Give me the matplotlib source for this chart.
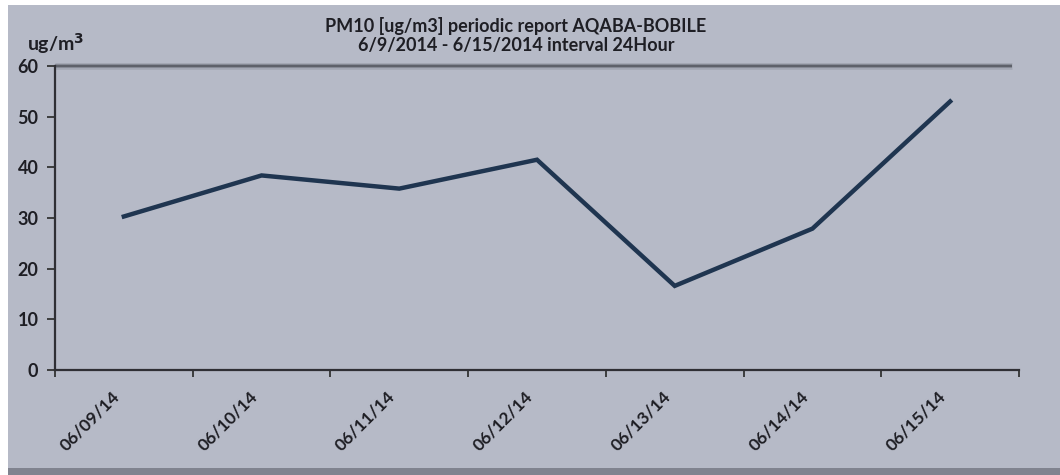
import matplotlib
matplotlib.use("Agg")
import matplotlib.pyplot as plt
from matplotlib.patches import Rectangle
import numpy as np

dates = ["06/09/14", "06/10/14", "06/11/14", "06/12/14", "06/13/14", "06/14/14", "06/15/14"]
pm10 = [30.3, 38.4, 35.8, 41.5, 16.6, 27.9, 53.0]
y_ticks = [0, 10, 20, 30, 40, 50, 60]

bg = "#b6bac7"
ink = "#1e1e24"
line_color = "#1f3550"

plt.rcParams["font.family"] = ["Lato", "DejaVu Sans"]

fig = plt.figure(figsize=(10.6, 4.75), dpi=100, facecolor="white")

# chart panel background with shadow along the bottom
fig.patches.append(Rectangle((8 / 1060, 7 / 475), 1052 / 1060, 463 / 475,
                             transform=fig.transFigure, facecolor=bg,
                             edgecolor="none", zorder=-2))
fig.patches.append(Rectangle((8 / 1060, 0), 1052 / 1060, 7 / 475,
                             transform=fig.transFigure, facecolor="#80838f",
                             edgecolor="none", zorder=-1))

ax = fig.add_axes([55 / 1060, 1 - 370 / 475, (1019 - 55) / 1060, (370 - 66) / 475])
ax.set_facecolor(bg)

x = np.arange(len(dates))
ax.plot(x, pm10, color=line_color, lw=3.2, solid_joinstyle="miter", zorder=3)

ax.set_xlim(-0.5, len(dates) - 0.5)
ax.set_ylim(0, 60)
ax.set_yticks(y_ticks)
ax.set_yticklabels([str(v) for v in y_ticks], fontsize=13, fontweight="bold", color=ink)

# category boundaries carry the ticks; the date labels sit under each category
ax.set_xticks(np.arange(len(dates) + 1) - 0.5)
ax.set_xticklabels([])
for i, d in enumerate(dates):
    ax.annotate(d, xy=(i, 0), xycoords=("data", "axes fraction"),
                xytext=(-9, -13), textcoords="offset points",
                rotation=45, ha="right", va="top", rotation_mode="anchor",
                fontsize=12.5, fontweight="bold", color=ink, annotation_clip=False)
ax.tick_params(axis="x", which="major", direction="out", length=5, width=1.3, color="#333")
ax.tick_params(axis="y", direction="out", length=6, width=1.3, color="#333", pad=6)

for side in ["left", "bottom"]:
    ax.spines[side].set_color("#2f2f35")
    ax.spines[side].set_linewidth(1.6)
ax.spines["right"].set_visible(False)
ax.spines["top"].set_visible(False)

# soft shadowed line along the top of the plot area
for w, a in [(5, 0.12), (3, 0.25), (1.6, 0.55)]:
    ax.plot([-0.5, 6.45], [60, 60], color="#3a3c44", lw=w, alpha=a,
            solid_capstyle="butt", clip_on=False, zorder=2)

fig.text(516 / 1060, 1 - 26 / 475, "PM10 [ug/m3] periodic report AQABA-BOBILE",
         ha="center", va="center", fontsize=13, fontweight="bold", color=ink)
fig.text(516 / 1060, 1 - 45 / 475, "6/9/2014 - 6/15/2014 interval 24Hour",
         ha="center", va="center", fontsize=13, fontweight="bold", color=ink)
fig.text(27 / 1060, 1 - 44 / 475, "ug/m$^\\mathbf{3}$", ha="left", va="center",
         fontsize=14, fontweight="bold", color=ink)

fig.savefig("out.png", dpi=100, facecolor=fig.get_facecolor())
